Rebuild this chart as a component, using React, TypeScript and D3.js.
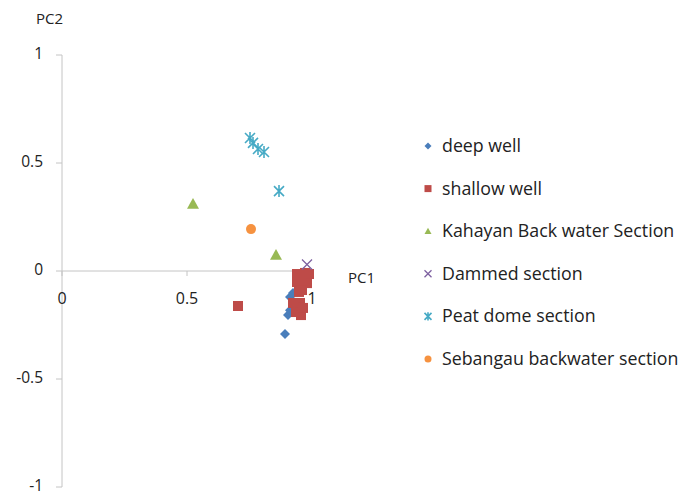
import React, { useEffect, useRef } from "react";
import * as d3 from "d3";

// PCA loadings: [PC1, PC2]
const deepWell: [number, number][] = [
  [0.924, -0.102],
  [0.912, -0.12],
  [0.904, -0.204],
  [0.912, -0.182],
  [0.892, -0.292],
];
const shallowWell: [number, number][] = [
  [0.94, -0.014],
  [0.972, -0.009],
  [0.988, -0.014],
  [0.94, -0.051],
  [0.98, -0.056],
  [0.956, -0.042],
  [0.948, -0.097],
  [0.96, -0.088],
  [0.924, -0.148],
  [0.952, -0.148],
  [0.936, -0.19],
  [0.956, -0.204],
  [0.964, -0.171],
  [0.704, -0.162],
];
const kahayan: [number, number][] = [
  [0.524, 0.31],
  [0.856, 0.074],
];
const dammed: [number, number][] = [[0.98, 0.03]];
const peatDome: [number, number][] = [
  [0.752, 0.616],
  [0.764, 0.593],
  [0.784, 0.565],
  [0.808, 0.551],
  [0.868, 0.37],
];
const sebangau: [number, number][] = [[0.756, 0.194]];

const seriesNames = [
  "deep well",
  "shallow well",
  "Kahayan Back water Section",
  "Dammed section",
  "Peat dome section",
  "Sebangau backwater section",
];
const seriesData = [deepWell, shallowWell, kahayan, dammed, peatDome, sebangau];
const seriesColors = ["#4a7ebb", "#be4b48", "#98b954", "#7d60a0", "#46aac5", "#f69240"];
const seriesShapes = ["diamond", "square", "triangle", "x", "star", "circle"];

const xTicks = [0, 0.5, 1];
const yTicks = [1, 0.5, 0, -0.5, -1];

const App = () => {
  const ref = useRef<SVGSVGElement>(null);

  useEffect(() => {
    const svg = d3.select(ref.current);
    svg.selectAll("*").remove();

    const x = d3.scaleLinear().domain([0, 1]).range([62, 312]);
    const y = d3.scaleLinear().domain([-1, 1]).range([487, 55]);
    const font = "'Open Sans', sans-serif";
    const axisColor = "#c4c4c4";

    // axes
    svg
      .append("line")
      .attr("x1", x(0))
      .attr("x2", x(0))
      .attr("y1", y(1))
      .attr("y2", y(-1))
      .attr("stroke", axisColor);
    svg
      .append("line")
      .attr("x1", x(0))
      .attr("x2", x(1))
      .attr("y1", y(0))
      .attr("y2", y(0))
      .attr("stroke", axisColor);

    svg
      .append("g")
      .selectAll("line")
      .data(yTicks)
      .enter()
      .append("line")
      .attr("x1", x(0) - 6)
      .attr("x2", x(0))
      .attr("y1", (d) => y(d))
      .attr("y2", (d) => y(d))
      .attr("stroke", axisColor);
    svg
      .append("g")
      .selectAll("line")
      .data(xTicks)
      .enter()
      .append("line")
      .attr("x1", (d) => x(d))
      .attr("x2", (d) => x(d))
      .attr("y1", y(0))
      .attr("y2", y(0) + 5)
      .attr("stroke", axisColor);

    svg
      .append("g")
      .attr("font-family", font)
      .attr("font-size", 15.5)
      .attr("fill", "#222")
      .attr("text-anchor", "end")
      .selectAll("text")
      .data(yTicks)
      .enter()
      .append("text")
      .attr("x", 43)
      .attr("y", (d) => y(d) + 4)
      .text((d) => String(d));

    svg
      .append("g")
      .attr("font-family", font)
      .attr("font-size", 16)
      .attr("fill", "#222")
      .attr("text-anchor", "middle")
      .selectAll("text")
      .data(xTicks)
      .enter()
      .append("text")
      .attr("x", (d) => x(d))
      .attr("y", y(0) + 33)
      .text((d) => String(d));

    svg
      .append("text")
      .attr("x", 36)
      .attr("y", 24)
      .attr("font-family", font)
      .attr("font-size", 15)
      .attr("fill", "#222")
      .text("PC2");
    svg
      .append("text")
      .attr("x", 348)
      .attr("y", 283)
      .attr("font-family", font)
      .attr("font-size", 15)
      .attr("fill", "#222")
      .text("PC1");

    const drawMarker = (
      g: d3.Selection<SVGGElement, unknown, null, undefined>,
      shape: string,
      color: string,
      s: number
    ) => {
      if (shape === "diamond") {
        g.append("path")
          .attr("d", `M0,${-s}L${s},0L0,${s}L${-s},0Z`)
          .attr("fill", color);
      } else if (shape === "square") {
        g.append("rect")
          .attr("x", -s)
          .attr("y", -s)
          .attr("width", 2 * s)
          .attr("height", 2 * s)
          .attr("fill", color);
      } else if (shape === "triangle") {
        g.append("path")
          .attr("d", `M0,${-s}L${s},${s * 0.8}L${-s},${s * 0.8}Z`)
          .attr("fill", color);
      } else if (shape === "x") {
        g.append("path")
          .attr("d", `M${-s},${-s}L${s},${s}M${s},${-s}L${-s},${s}`)
          .attr("stroke", color)
          .attr("stroke-width", 1.3)
          .attr("fill", "none");
      } else if (shape === "star") {
        g.append("path")
          .attr(
            "d",
            `M${-s},${-s}L${s},${s}M${s},${-s}L${-s},${s}M0,${-s * 1.2}L0,${s * 1.2}`
          )
          .attr("stroke", color)
          .attr("stroke-width", 1.6)
          .attr("fill", "none");
      } else {
        g.append("circle").attr("r", s).attr("fill", color);
      }
    };

    const markerSize = [5, 5, 6, 5, 5, 5];

    seriesData.forEach((data, i) => {
      data.forEach((d) => {
        const g = svg
          .append("g")
          .attr("transform", `translate(${x(d[0])},${y(d[1])})`);
        drawMarker(g, seriesShapes[i], seriesColors[i], markerSize[i]);
      });
    });

    // legend
    const legendY = d3
      .scaleLinear()
      .domain([0, seriesNames.length - 1])
      .range([146, 359]);
    seriesNames.forEach((name, i) => {
      const g = svg
        .append("g")
        .attr("transform", `translate(428,${legendY(i)})`);
      drawMarker(g, seriesShapes[i], seriesColors[i], 3.5);
      g.append("text")
        .attr("x", 14)
        .attr("y", 6)
        .attr("font-family", font)
        .attr("font-size", 17.8)
        .attr("fill", "#222")
        .text(name);
    });
  }, []);

  return (
    <svg
      ref={ref}
      width={679}
      height={495}
      style={{ position: "absolute", left: 0, top: 0, background: "#fff" }}
    />
  );
};

export default App;
